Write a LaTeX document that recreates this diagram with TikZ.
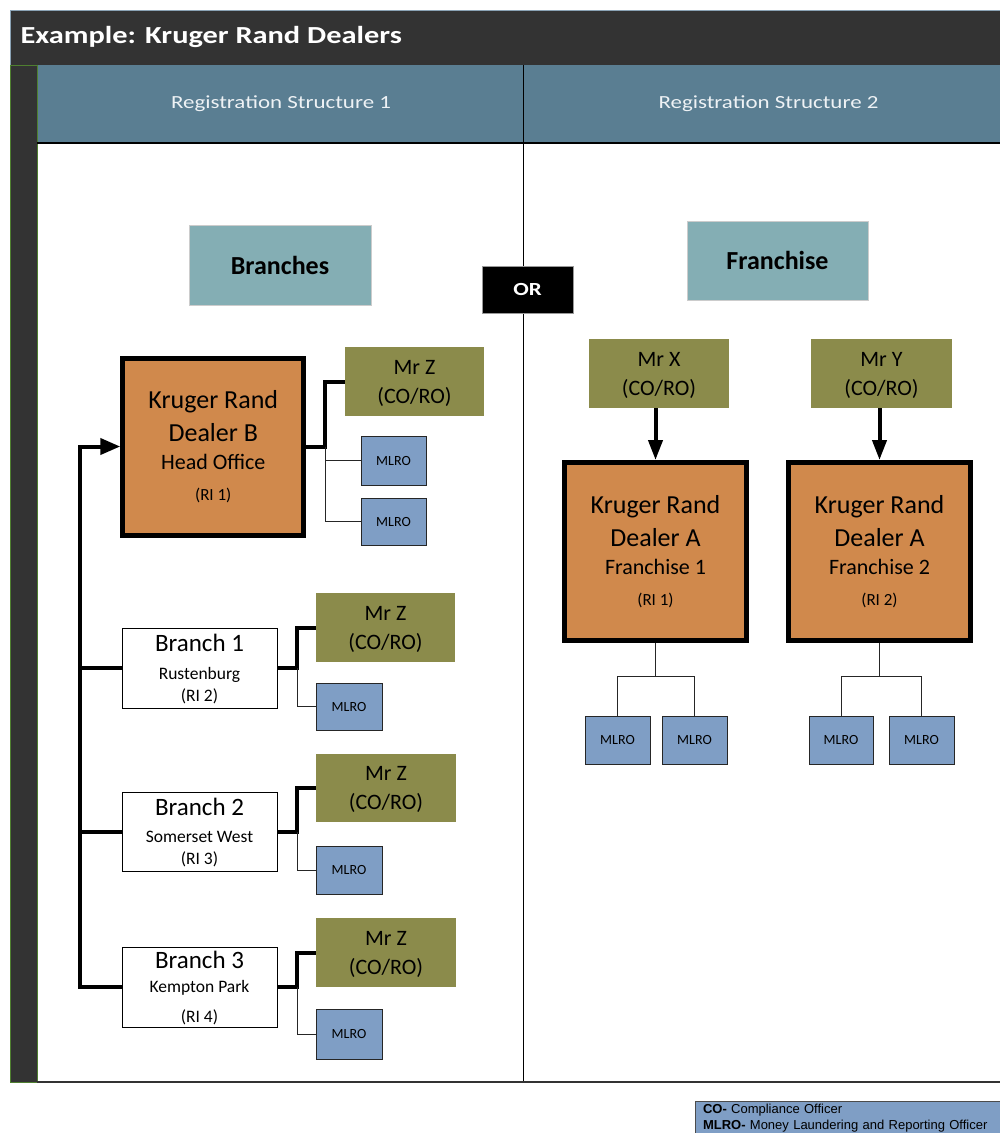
\documentclass[tikz,border=0pt]{standalone}
\usepackage{fontspec}
\setmainfont{Carlito}
\newfontfamily\hdrfont{Carlito}[FakeStretch=1.24]
\newfontfamily\legfont{Liberation Sans}
\usetikzlibrary{arrows.meta}
\definecolor{dark}{HTML}{333333}
\definecolor{band}{HTML}{5A7E92}
\definecolor{tealbox}{HTML}{84AEB4}
\definecolor{orng}{HTML}{D0894C}
\definecolor{olive}{HTML}{8B8B4B}
\definecolor{mblue}{HTML}{7F9EC5}
\definecolor{lgreen}{HTML}{4F7F30}
\definecolor{hdrtxt}{HTML}{EEF2F5}
\definecolor{edgeblue}{HTML}{8BA3B5}
\begin{document}
\begin{tikzpicture}[x=1pt,y=-1pt,
  base/.style={rectangle, inner sep=0pt, outer sep=0pt, align=center},
  hdr/.style={base, text=hdrtxt, font=\hdrfont\fontsize{18.5}{22}\selectfont},
  catbox/.style={base, fill=tealbox, draw=black!20, line width=0.8pt, font=\bfseries\fontsize{26}{30}\selectfont},
  orbox/.style={base, fill=black, draw=black!40, line width=0.8pt, text=white, font=\hdrfont\bfseries\fontsize{18.5}{20}\selectfont},
  dealer/.style={base, fill=orng, draw=black, line width=5pt, outer sep=2.5pt, font=\fontsize{26}{28}\selectfont},
  officer/.style={base, fill=olive, minimum width=140pt, minimum height=69pt, font=\fontsize{22}{29}\selectfont},
  mlro/.style={base, fill=mblue, draw=black!85, line width=1pt, font=\fontsize{14}{16}\selectfont},
  branch/.style={base, fill=white, draw=black, line width=1pt, minimum width=155pt, minimum height=80pt, font=\fontsize{25}{22}\selectfont},
  legend/.style={base, fill=mblue, draw=black!70, line width=0.8pt, align=left, text width=295pt, inner xsep=8pt, inner ysep=3pt, font=\legfont\fontsize{13}{16}\selectfont},
  thickc/.style={line width=4pt, line join=miter},
  thinc/.style={line width=1pt, draw=black!85},
  tip/.style={-{Triangle[length=20pt,width=16pt]}}
]
\useasboundingbox (0,0) rectangle (1000,1133);
\fill[white] (0,0) rectangle (1000,1133);
% frame
\path[fill=dark, draw=edgeblue, line width=0.8pt] (10,10) rectangle (1004,65);
\path[fill=band] (37,65) rectangle (1004,143);
\path[fill=dark, draw=lgreen, line width=1pt] (10,65) rectangle (37,1082);
\draw[line width=1.2pt] (37,143) -- (1004,143);
\draw[line width=1pt] (523,65) -- (523,1082);
\draw[line width=1.5pt, black!80] (37,1082) -- (1004,1082);

% headers
\node[anchor=west, text=white, font=\hdrfont\bfseries\fontsize{24.5}{28}\selectfont] (title) at (17,37) {Example: Kruger Rand Dealers};
\node[hdr] (rs1) at (281,104) {Registration Structure 1};
\node[hdr] (rs2) at (768.5,104) {Registration Structure 2};

% category boxes
\node[catbox, minimum width=182pt, minimum height=80pt] (branches) at (280,265) {Branches};
\node[orbox, minimum width=91pt, minimum height=47pt] (or) at (527.5,289.5) {OR};
\node[catbox, minimum width=181pt, minimum height=79pt] (franchise) at (777.5,260.5) {Franchise};

% structure 1: head office
\node[dealer, minimum width=181pt, minimum height=177pt] (head) at (213.25,446.5)
  {Kruger Rand\\[5.5pt]Dealer B\\{\fontsize{22}{28}\selectfont Head Office}\\[2.8pt]{\fontsize{17}{28}\selectfont (RI 1)}};
\node[officer, minimum width=139pt] (mrz0) at (414.5,381.5) {Mr Z\\\smash{(CO/RO)}};
\node[mlro, minimum width=65pt, minimum height=49pt] (m0a) at (393.5,460.5) {MLRO};
\node[mlro, minimum width=65pt, minimum height=47pt] (m0b) at (393.5,521.5) {MLRO};

% branches
\node[branch] (b1) at (199.5,668) {Branch 1\\[5.6pt]{\fontsize{17.5}{22}\selectfont Rustenburg}\\{\fontsize{17.5}{22}\selectfont \smash{(RI 2)}}};
\node[branch, minimum height=79pt] (b2) at (199.5,831.5) {Branch 2\\[4.6pt]{\fontsize{17.5}{22}\selectfont Somerset West}\\{\fontsize{17.5}{22}\selectfont \smash{(RI 3)}}};
\node[branch] (b3) at (199.5,987) {Branch 3\\[2.6pt]{\fontsize{17.5}{22}\selectfont Kempton Park}\\[8pt]{\fontsize{17.5}{22}\selectfont \smash{(RI 4)}}};

\node[officer, minimum width=139pt] (mrz1) at (385.5,627.5) {Mr Z\\\smash{(CO/RO)}};
\node[officer, minimum height=68pt] (mrz2) at (386,788) {Mr Z\\\smash{(CO/RO)}};
\node[officer] (mrz3) at (386,952.5) {Mr Z\\\smash{(CO/RO)}};
\node[mlro, minimum width=66pt, minimum height=47pt] (m1) at (349,706.5) {MLRO};
\node[mlro, minimum width=66pt, minimum height=48pt] (m2) at (349,870) {MLRO};
\node[mlro, minimum width=66pt, minimum height=50pt] (m3) at (349,1034) {MLRO};

% structure 2: franchise
\node[officer] (mrx) at (659,373.5) {Mr X\\\smash{(CO/RO)}};
\node[officer, minimum width=141pt] (mry) at (881.5,373.5) {Mr Y\\\smash{(CO/RO)}};
\node[dealer, minimum width=182pt, minimum height=178pt] (fr1) at (655.5,551.5)
  {Kruger Rand\\[5.5pt]Dealer A\\{\fontsize{22}{28}\selectfont Franchise 1}\\[2.8pt]{\fontsize{17}{28}\selectfont (RI 1)}};
\node[dealer, minimum width=182pt, minimum height=178pt] (fr2) at (879.5,551.5)
  {Kruger Rand\\[5.5pt]Dealer A\\{\fontsize{22}{28}\selectfont Franchise 2}\\[2.8pt]{\fontsize{17}{28}\selectfont (RI 2)}};
\node[mlro, minimum width=65pt, minimum height=48pt] (f1a) at (617.5,740) {MLRO};
\node[mlro, minimum width=65pt, minimum height=48pt] (f1b) at (694.5,740) {MLRO};
\node[mlro, minimum width=64pt, minimum height=48pt] (f2a) at (841,740) {MLRO};
\node[mlro, minimum width=65pt, minimum height=48pt] (f2b) at (921.5,740) {MLRO};

% legend
\node[legend, anchor=north west] (legend) at (695,1101) {\textbf{CO-} Compliance Officer\\\textbf{MLRO-} Money Laundering and Reporting Officer};

% connectors structure 1
\coordinate (spx) at (80,0);
\draw[thickc, tip] (b3.west) -| (head.west -| spx) -- (head.west);
\draw[thickc] (b1.west) -- (b1.west -| spx);
\draw[thickc] (b2.west) -- (b2.west -| spx);

\draw[thickc] (head.east) -- ++(19,0) coordinate (j0) |- (mrz0.west);
\draw[thinc] (j0) |- (m0a.west);
\draw[thinc] (j0) |- (m0b.west);

\draw[thickc] (b1.east) -- ++(20,0) coordinate (j1) |- (mrz1.west);
\draw[thinc] (j1) |- (m1.west);
\draw[thickc] (b2.east) -- ++(20,0) coordinate (j2) |- (mrz2.west);
\draw[thinc] (j2) |- (m2.west);
\draw[thickc] (b3.east) -- ++(20,0) coordinate (j3) |- (mrz3.west);
\draw[thinc] (j3) |- (m3.west);

% connectors structure 2
\draw[thickc, -{Triangle[length=20pt,width=14pt]}] (fr1.north |- mrx.south) -- (fr1.north);
\draw[thickc, -{Triangle[length=20pt,width=14pt]}] (fr2.north |- mry.south) -- (fr2.north);
\draw[thinc] (fr1.south) -- ++(0,33) coordinate (k1);
\draw[thinc] (k1) -| (f1a.north);
\draw[thinc] (k1) -| (f1b.north);
\draw[thinc] (fr2.south) -- ++(0,33) coordinate (k2);
\draw[thinc] (k2) -| (f2a.north);
\draw[thinc] (k2) -| (f2b.north);
\end{tikzpicture}
\end{document}
